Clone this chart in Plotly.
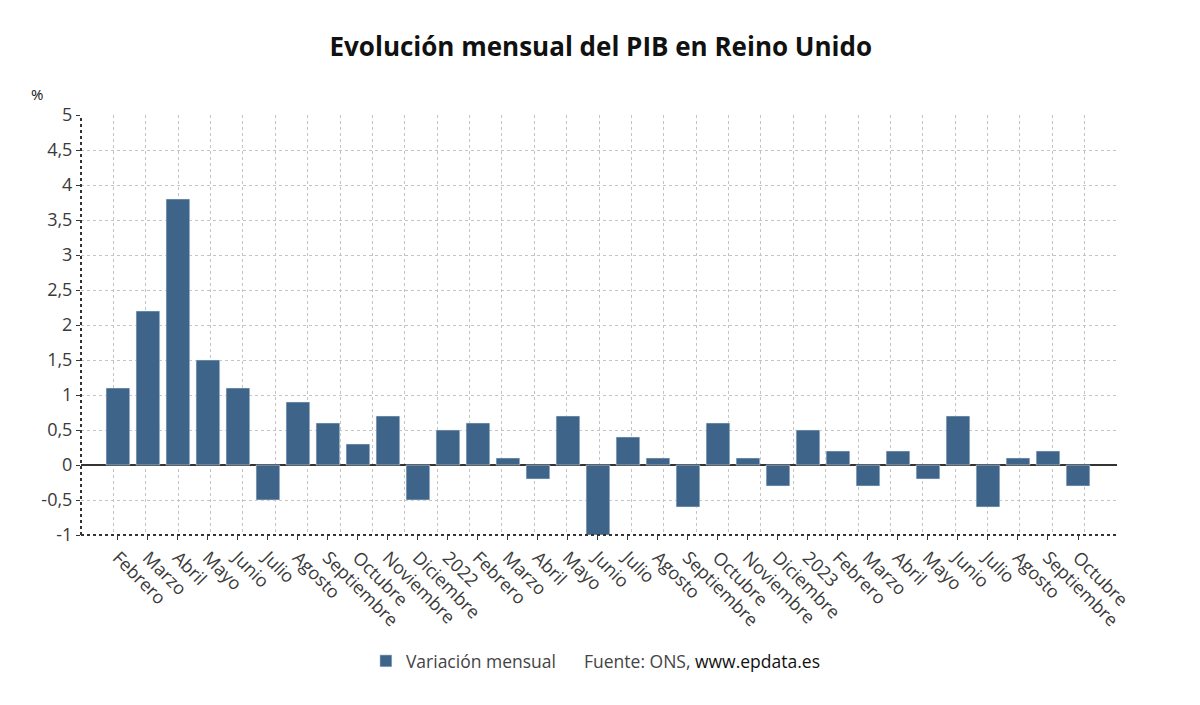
import plotly.graph_objects as go

months = ["Febrero", "Marzo", "Abril", "Mayo", "Junio", "Julio", "Agosto", "Septiembre",
          "Octubre", "Noviembre", "Diciembre", "2022", "Febrero", "Marzo", "Abril", "Mayo",
          "Junio", "Julio", "Agosto", "Septiembre", "Octubre", "Noviembre", "Diciembre", "2023",
          "Febrero", "Marzo", "Abril", "Mayo", "Junio", "Julio", "Agosto", "Septiembre", "Octubre"]
variacion = [1.1, 2.2, 3.8, 1.5, 1.1, -0.5, 0.9, 0.6, 0.3, 0.7, -0.5, 0.5, 0.6, 0.1, -0.2, 0.7,
             -1.0, 0.4, 0.1, -0.6, 0.6, 0.1, -0.3, 0.5, 0.2, -0.3, 0.2, -0.2, 0.7, -0.6, 0.1, 0.2, -0.3]
y_ticks = [-1, -0.5, 0, 0.5, 1, 1.5, 2, 2.5, 3, 3.5, 4, 4.5, 5]
y_ticktext = ["-1", "-0,5", "0", "0,5", "1", "1,5", "2", "2,5", "3", "3,5", "4", "4,5", "5"]
grid_cols = list(range(33))

FONT = "Open Sans"
BAR = "#3e6589"
idx = list(range(len(months)))

fig = go.Figure()
fig.add_trace(go.Bar(x=idx, y=variacion, name="Variación mensual", marker_color=BAR,
                     width=0.79, hovertemplate="%{y}<extra></extra>"))
# helper (invisible) trace so the grid-only axis is drawn
fig.add_trace(go.Scatter(x=[grid_cols[0], grid_cols[-1]], y=[None, None], xaxis="x2",
                         mode="lines", showlegend=False, hoverinfo="skip"))

fig.update_layout(
    width=1200, height=705,
    margin=dict(l=73, r=91, t=107, b=178),
    paper_bgcolor="white", plot_bgcolor="white",
    font=dict(family=FONT, size=17.5, color="#333"),
    title=dict(text="<b>Evolución mensual del PIB en Reino Unido</b>", x=0.494, xanchor="center",
               y=1 - 39 / 705, yanchor="middle", font=dict(family=FONT, size=26, color="#111")),
    showlegend=True,
    legend=dict(orientation="h", x=0.275, xanchor="left", y=-0.30, yanchor="middle",
                font=dict(family=FONT, size=17.5, color="#444"), itemwidth=30),
    xaxis=dict(range=[-1.23, 33.3], tickvals=idx, ticktext=months, tickangle=45,
               showgrid=False, ticks="outside", ticklen=4, tickcolor="#333",
               zeroline=False, showline=False, tickfont=dict(size=18, color="#3a3a3a")),
    xaxis2=dict(overlaying="x", range=[grid_cols[0], grid_cols[-1]], tickvals=grid_cols,
                showgrid=True, gridcolor="#c4c4c4", griddash="dot", gridwidth=1,
                showticklabels=False, ticks="", zeroline=False, showline=False,
                side="bottom", anchor="y"),
    yaxis=dict(range=[-1, 5], tickvals=y_ticks, ticktext=y_ticktext, showgrid=True,
               gridcolor="#c4c4c4", griddash="dot", gridwidth=1, zeroline=True,
               zerolinecolor="#333", zerolinewidth=2, ticks="outside", ticklen=4,
               tickcolor="#333", showline=False, tickfont=dict(size=18, color="#3a3a3a")),
)

# dotted axis lines (left and bottom)
fig.add_shape(type="line", xref="paper", yref="paper", x0=0, x1=0, y0=0, y1=1,
              line=dict(color="#333", width=2, dash="dot"))
fig.add_shape(type="line", xref="paper", yref="paper", x0=0, x1=1, y0=0, y1=0,
              line=dict(color="#333", width=2, dash="dot"))

fig.add_annotation(text="%", xref="paper", yref="paper", x=-0.05, y=1.05, xanchor="left",
                   yanchor="middle", showarrow=False, font=dict(family=FONT, size=15, color="#111"))
fig.add_annotation(text="Fuente: ONS, <span style='color:#111'>www.epdata.es</span>",
                   xref="paper", yref="paper", x=0.484, y=-0.30, xanchor="left", yanchor="middle",
                   showarrow=False, font=dict(family=FONT, size=17.5, color="#444"))

fig.write_html("out.html")
